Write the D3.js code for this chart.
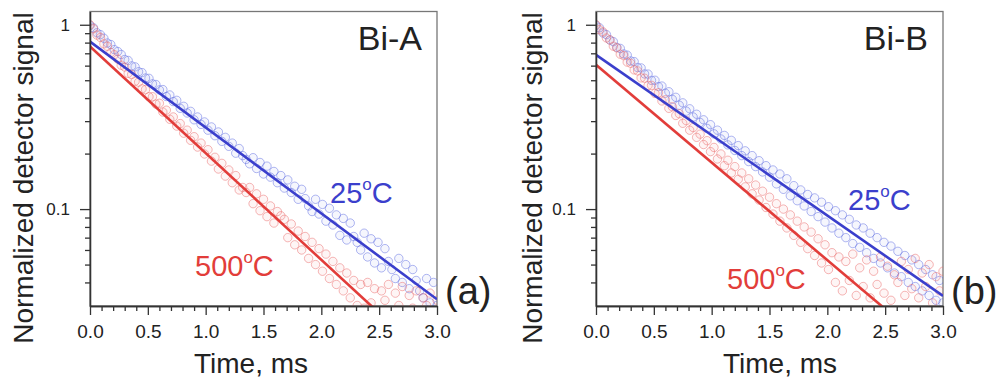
<!DOCTYPE html>
<html>
<head>
<meta charset="utf-8">
<script src="https://cdn.jsdelivr.net/npm/d3@7"></script>
<style>
  body { margin: 0; background: #fff; }
  svg { display: block; font-family: "Liberation Sans", Arial, sans-serif; }
  .axis path, .axis line { stroke: #333; stroke-width: 1.3; }
  .axis text { fill: #222; }
</style>
</head>
<body>
<div id="chart"></div>
<script>
// sample times of the detector trace, ms
var timeMs = [
  0, 0.03, 0.06, 0.09, 0.12, 0.15, 0.18, 0.21, 0.24, 0.27,
  0.3, 0.33, 0.36, 0.39, 0.42, 0.45, 0.48, 0.51, 0.54, 0.57,
  0.6, 0.63, 0.66, 0.69, 0.72, 0.75, 0.78, 0.81, 0.84, 0.87,
  0.9, 0.93, 0.96, 0.99, 1.02, 1.05, 1.08, 1.11, 1.14, 1.17,
  1.2, 1.23, 1.26, 1.29, 1.32, 1.35, 1.38, 1.41, 1.44, 1.47,
  1.5, 1.53, 1.56, 1.59, 1.62, 1.65, 1.68, 1.71, 1.74, 1.77,
  1.8, 1.83, 1.86, 1.89, 1.92, 1.95, 1.98, 2.01, 2.04, 2.07,
  2.1, 2.13, 2.16, 2.19, 2.22, 2.25, 2.28, 2.31, 2.34, 2.37,
  2.4, 2.43, 2.46, 2.49, 2.52, 2.55, 2.58, 2.61, 2.64, 2.67,
  2.7, 2.73, 2.76, 2.79, 2.82, 2.85, 2.88, 2.91, 2.94, 2.97,
  3.0
];

// Bi-A, 25 C
var signalA25 = [
  0.99, 0.962, 0.905, 0.884, 0.845, 0.796, 0.781, 0.733, 0.716, 0.690,
  0.648, 0.640, 0.598, 0.591, 0.556, 0.550, 0.514, 0.512, 0.478, 0.474,
  0.443, 0.445, 0.408, 0.416, 0.383, 0.389, 0.352, 0.361, 0.332, 0.339,
  0.305, 0.316, 0.288, 0.297, 0.268, 0.279, 0.250, 0.262, 0.233, 0.245,
  0.219, 0.228, 0.201, 0.213, 0.195, 0.186, 0.176, 0.190, 0.166, 0.179,
  0.155, 0.171, 0.149, 0.160, 0.139, 0.152, 0.130, 0.144, 0.123, 0.133,
  0.113, 0.128, 0.114, 0.104, 0.097, 0.113, 0.094, 0.106, 0.086, 0.101,
  0.082, 0.093, 0.072, 0.089, 0.068, 0.084, 0.071, 0.066, 0.060, 0.074,
  0.055, 0.069, 0.051, 0.066, 0.048, 0.061, 0.052, 0.047, 0.042, 0.054,
  0.040, 0.050, 0.037, 0.047, 0.041, 0.036, 0.033, 0.042, 0.031, 0.040,
  0.030
];
// Bi-A, 500 C
var signalA500 = [
  1.00, 0.951, 0.879, 0.853, 0.788, 0.764, 0.706, 0.688, 0.651, 0.603,
  0.590, 0.545, 0.537, 0.494, 0.488, 0.449, 0.445, 0.407, 0.407, 0.371,
  0.375, 0.336, 0.344, 0.307, 0.316, 0.282, 0.291, 0.258, 0.268, 0.236,
  0.247, 0.217, 0.228, 0.199, 0.210, 0.182, 0.191, 0.165, 0.177, 0.151,
  0.163, 0.139, 0.152, 0.127, 0.131, 0.123, 0.131, 0.107, 0.121, 0.098,
  0.113, 0.091, 0.104, 0.084, 0.097, 0.092, 0.088, 0.070, 0.083, 0.064,
  0.076, 0.060, 0.071, 0.054, 0.066, 0.050, 0.061, 0.046, 0.057, 0.042,
  0.052, 0.039, 0.048, 0.036, 0.045, 0.033, 0.041, 0.030, 0.039, 0.029,
  0.040, 0.031, 0.037, 0.028, 0.036, 0.032, 0.039, 0.027, 0.035, 0.030,
  0.038, 0.028, 0.034, 0.029, 0.036, 0.027, 0.033, 0.030, 0.035, 0.028,
  0.032
];
// Bi-B, 25 C
var signalB25 = [
  0.99, 0.963, 0.902, 0.884, 0.826, 0.810, 0.754, 0.744, 0.694, 0.684,
  0.636, 0.631, 0.586, 0.583, 0.541, 0.540, 0.499, 0.500, 0.462, 0.465,
  0.425, 0.433, 0.394, 0.404, 0.366, 0.377, 0.340, 0.350, 0.316, 0.327,
  0.295, 0.305, 0.274, 0.287, 0.256, 0.268, 0.240, 0.251, 0.223, 0.236,
  0.208, 0.221, 0.195, 0.207, 0.181, 0.195, 0.170, 0.183, 0.159, 0.172,
  0.149, 0.163, 0.137, 0.155, 0.128, 0.146, 0.118, 0.134, 0.111, 0.127,
  0.104, 0.120, 0.097, 0.115, 0.091, 0.109, 0.085, 0.103, 0.079, 0.098,
  0.074, 0.093, 0.070, 0.088, 0.065, 0.082, 0.062, 0.079, 0.058, 0.074,
  0.054, 0.070, 0.051, 0.066, 0.048, 0.063, 0.045, 0.059, 0.043, 0.056,
  0.040, 0.053, 0.038, 0.050, 0.036, 0.047, 0.034, 0.044, 0.032, 0.041,
  0.031
];
// Bi-B, 500 C
var signalB500 = [
  1.00, 0.940, 0.915, 0.848, 0.828, 0.765, 0.749, 0.692, 0.680, 0.627,
  0.618, 0.569, 0.562, 0.515, 0.513, 0.468, 0.469, 0.424, 0.428, 0.386,
  0.392, 0.352, 0.359, 0.322, 0.329, 0.292, 0.302, 0.268, 0.277, 0.245,
  0.255, 0.224, 0.235, 0.205, 0.216, 0.187, 0.199, 0.172, 0.184, 0.157,
  0.170, 0.145, 0.157, 0.132, 0.146, 0.121, 0.135, 0.112, 0.125, 0.102,
  0.116, 0.094, 0.107, 0.086, 0.100, 0.079, 0.093, 0.072, 0.086, 0.066,
  0.080, 0.061, 0.075, 0.056, 0.069, 0.051, 0.064, 0.047, 0.058, 0.040,
  0.055, 0.036, 0.052, 0.041, 0.057, 0.034, 0.048, 0.038, 0.053, 0.033,
  0.046, 0.039, 0.055, 0.035, 0.049, 0.032, 0.044, 0.040, 0.052, 0.034,
  0.047, 0.037, 0.054, 0.033, 0.045, 0.038, 0.050, 0.031, 0.043, 0.036,
  0.046
];

// single exponential fits, [time, signal] end points
var fitA25 = [[0, 0.81], [3.0, 0.0324]];
var fitA500 = [[0, 0.762], [3.0, 0.0140]];
var fitB25 = [[0, 0.687], [3.0, 0.0338]];
var fitB500 = [[0, 0.606], [3.0, 0.0156]];

var xMajorTicks = [0, 0.5, 1.0, 1.5, 2.0, 2.5, 3.0];
var xMinorTicks = [0.1, 0.2, 0.3, 0.4, 0.6, 0.7, 0.8, 0.9, 1.1, 1.2, 1.3, 1.4, 1.6, 1.7, 1.8, 1.9, 2.1, 2.2, 2.3, 2.4, 2.6, 2.7, 2.8, 2.9];
var yMajorTicks = [0.1, 1];
var yMinorTicks = [0.04, 0.05, 0.06, 0.07, 0.08, 0.09, 0.2, 0.3, 0.4, 0.5, 0.6, 0.7, 0.8, 0.9];

var blue = "#3b3fcc", red = "#e23d3a";

var svg = d3.select("#chart").append("svg")
    .attr("width", 1000)
    .attr("height", 379);

var panels = [
  { id: "a", left: 90, name: "Bi-A", tag: "(a)", d25: signalA25, d500: signalA500, f25: fitA25, f500: fitA500,
    lab25: [330, 203], lab500: [195, 276], timeX: 251, yLabX: 23 },
  { id: "b", left: 596, name: "Bi-B", tag: "(b)", d25: signalB25, d500: signalB500, f25: fitB25, f500: fitB500,
    lab25: [848, 210], lab500: [727, 289], timeX: 780, yLabX: 532 }
];

var plotW = 347, plotTop = 11.5, plotBottom = 306;

panels.forEach(drawPanel);

function drawPanel(p) {
    var x = d3.scaleLinear().domain([0, 3]).range([p.left, p.left + plotW]);
    var y = d3.scaleLog().domain([0.0298, 1.18]).range([plotBottom, plotTop]);

    // clip for the data
    svg.append("clipPath").attr("id", "clip" + p.id)
        .append("rect")
        .attr("x", p.left).attr("y", plotTop)
        .attr("width", plotW).attr("height", plotBottom - plotTop);

    // frame
    svg.append("rect")
        .attr("x", p.left).attr("y", plotTop)
        .attr("width", plotW).attr("height", plotBottom - plotTop)
        .attr("fill", "none")
        .attr("stroke", "#777")
        .attr("stroke-width", 1.3);

    var g = svg.append("g").attr("clip-path", "url(#clip" + p.id + ")");

    //data circles
    var series = [
        { vals: p.d25, stroke: "rgba(90,105,225,0.48)", fill: "rgba(90,105,225,0.06)" },
        { vals: p.d500, stroke: "rgba(235,110,110,0.5)", fill: "rgba(235,110,110,0.07)" }
    ];
    series.forEach(function (s) {
        g.append("g")
            .selectAll("circle")
            .data(timeMs.map(function (t, i) { return [t, s.vals[i]]; }))
            .enter()
            .append("circle")
            .attr("cx", function (d) { return x(d[0]); })
            .attr("cy", function (d) { return y(d[1]); })
            .attr("r", 4.2)
            .attr("fill", s.fill)
            .attr("stroke", s.stroke)
            .attr("stroke-width", 1);
    });

    var line = d3.line()
        .x(function (d) { return x(d[0]); })
        .y(function (d) { return y(d[1]); });

    g.append("path").datum(p.f25).attr("d", line)
        .attr("fill", "none").attr("stroke", blue).attr("stroke-width", 2.6);
    g.append("path").datum(p.f500).attr("d", line)
        .attr("fill", "none").attr("stroke", red).attr("stroke-width", 2.6);

    // x axis
    svg.append("g").attr("class", "axis")
        .attr("transform", "translate(0," + plotBottom + ")")
        .call(d3.axisBottom(x).tickValues(xMinorTicks).tickSize(5).tickSizeOuter(0).tickFormat(""));
    var xa = svg.append("g").attr("class", "axis")
        .attr("transform", "translate(0," + plotBottom + ")")
        .call(d3.axisBottom(x).tickValues(xMajorTicks).tickSize(9).tickSizeOuter(0).tickPadding(10).tickFormat(d3.format(".1f")));
    xa.selectAll("text").attr("font-size", 19).attr("font-family", null);

    // y axis
    svg.append("g").attr("class", "axis")
        .attr("transform", "translate(" + p.left + ",0)")
        .call(d3.axisLeft(y).tickValues(yMinorTicks).tickSize(5).tickSizeOuter(0).tickFormat(""));
    var ya = svg.append("g").attr("class", "axis")
        .attr("transform", "translate(" + p.left + ",0)")
        .call(d3.axisLeft(y).tickValues(yMajorTicks).tickSize(10).tickSizeOuter(0).tickPadding(10)
            .tickFormat(function (d) { return d === 1 ? "1" : "0.1"; }));
    ya.selectAll("text").attr("font-size", 17).attr("font-family", null);

    // axis titles
    svg.append("text")
        .attr("x", p.timeX).attr("y", 373)
        .attr("text-anchor", "middle")
        .attr("font-size", 28).attr("fill", "#222")
        .text("Time, ms");

    svg.append("text")
        .attr("transform", "translate(" + (p.yLabX + 10) + ",178) rotate(-90)")
        .attr("text-anchor", "middle")
        .attr("font-size", 28).attr("fill", "#222")
        .text("Normalized detector signal");

    // sample name and panel tag
    svg.append("text")
        .attr("x", p.left + plotW - 15).attr("y", 50)
        .attr("text-anchor", "end")
        .attr("font-size", 34).attr("fill", "#222")
        .text(p.name);

    svg.append("text")
        .attr("x", p.left + plotW + 8).attr("y", 304)
        .attr("font-size", 38).attr("fill", "#222")
        .text(p.tag);

    // temperature labels
    tempLabel(p.lab25, "25", blue);
    tempLabel(p.lab500, "500", red);
}

function tempLabel(pos, num, color) {
    var t = svg.append("text")
        .attr("x", pos[0]).attr("y", pos[1])
        .attr("font-size", 29).attr("fill", color);
    t.append("tspan").text(num);
    t.append("tspan").attr("font-size", 17).attr("dy", -13).text("o");
    t.append("tspan").attr("dy", 13).text("C");
}
</script>
</body>
</html>
